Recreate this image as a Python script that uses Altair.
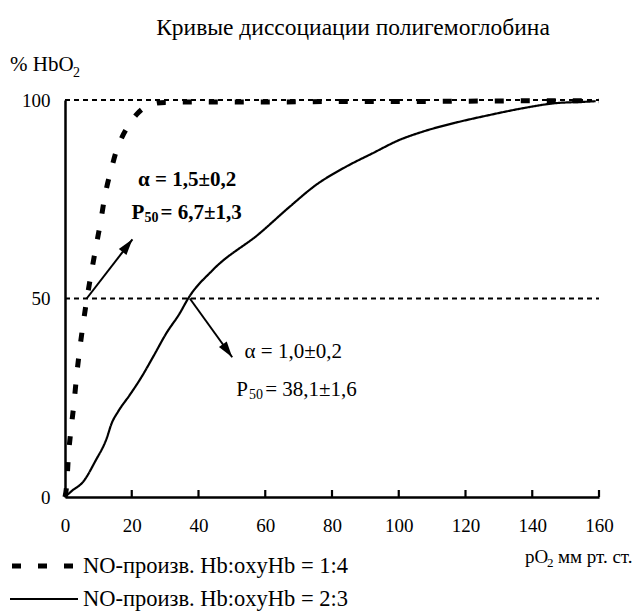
import math
import altair as alt
import pandas as pd

# ---------------- data ----------------
TITLE = "Кривые диссоциации полигемоглобина"
SERIES_A = "NO-произв. Hb:oxyHb = 1:4"
SERIES_B = "NO-произв. Hb:oxyHb = 2:3"

po2_a = [0, 0.5, 1, 1.8, 2.7, 3.5, 4.5, 5.3, 6.5, 8, 9.5, 10.5, 12, 14, 15.5, 17, 19,
         21.4, 24, 26.4, 30, 40, 60, 80, 100, 120, 140, 160]
hbo2_a = [0, 3, 10, 17, 23.7, 30.7, 37.8, 42.8, 49.6, 57, 64, 68.5, 76, 83, 87.5, 90.5, 93.5,
          96.3, 98.2, 99, 99.4, 99.5, 99.5, 99.6, 99.6, 99.7, 99.8, 99.8]

po2_b = [0, 2, 5.5, 9, 12.5, 14, 15.9, 19.4, 22.4, 26.4, 30.4, 34.4, 36.9, 44.3, 58.3, 67.3,
         75.2, 84.2, 92.2, 100.1, 107.1, 117.1, 127.1, 137, 147, 157, 159]
hbo2_b = [0, 1.5, 3.9, 8.9, 14.8, 18.6, 21.5, 25.7, 29.5, 35.3, 41.3, 46.3, 50, 57.2, 66.4, 73.1,
          78.6, 83.2, 86.6, 89.9, 92, 94.3, 96.2, 97.9, 99.2, 99.6, 99.7]

x_ticks = [0, 20, 40, 60, 80, 100, 120, 140, 160]
y_ticks = [0, 50, 100]
ref_levels = [50, 100]

arrow_x1 = [6.5, 37.4]
arrow_y1 = [50, 50]
arrow_x2 = [20.2, 50.1]
arrow_y2 = [64.9, 35.2]

ann_bold_text = ["α = 1,5±0,2", "P", "= 6,7±1,3"]
ann_bold_x = [21.9, 19.9, 28.6]
ann_bold_y = [79.8, 71.5, 71.5]
ann_bold_sub = ["50"]
ann_bold_sub_x = [23.8]
ann_bold_sub_y = [70.2]

ann_norm_text = ["α = 1,0±0,2", "P", "= 38,1±1,6"]
ann_norm_x = [53.8, 51.3, 60.0]
ann_norm_y = [36.6, 27, 27]
ann_norm_sub = ["50"]
ann_norm_sub_x = [55.1]
ann_norm_sub_y = [25.6]

# ---------------- layout ----------------
W, H = 534, 397
FONT = "Liberation Serif, Times New Roman, serif"
XMAX, YMAX = 160, 100

curves = pd.DataFrame({
    "pO2": po2_a + po2_b,
    "HbO2": hbo2_a + hbo2_b,
    "series": [SERIES_A] * len(po2_a) + [SERIES_B] * len(po2_b),
})

xs = alt.Scale(domain=[0, XMAX], nice=False, zero=False)
ys = alt.Scale(domain=[0, YMAX], nice=False, zero=False)
dash_scale = alt.Scale(domain=[SERIES_A, SERIES_B], range=[[9, 17], [1, 0]])
width_scale = alt.Scale(domain=[SERIES_A, SERIES_B], range=[5, 2.2])

xaxis = alt.Axis(values=x_ticks, title=None, ticks=False, grid=False, labelPadding=19,
                 domainColor="black", domainWidth=2.5, labelFont=FONT, labelFontSize=19,
                 labelColor="black", labelFlush=False, labelOverlap=False)
yaxis = alt.Axis(values=y_ticks, title=None, ticks=False, grid=False, labelPadding=15,
                 domainColor="black", domainWidth=2.5, labelFont=FONT, labelFontSize=19,
                 labelColor="black", labelFlush=False, labelOverlap=False)

# dotted reference lines
refs = alt.Chart(pd.DataFrame({"lvl": ref_levels, "x0": [0] * len(ref_levels),
                               "x1": [XMAX] * len(ref_levels)})).mark_rule(
    color="black", strokeWidth=2, strokeDash=[5, 4]
).encode(
    y=alt.Y("lvl:Q", scale=ys, axis=yaxis),
    x=alt.X("x0:Q", scale=xs, axis=xaxis),
    x2="x1:Q",
)

# inward tick marks on x axis
ticks = alt.Chart(pd.DataFrame({"t": x_ticks[1:]})).mark_rule(
    color="black", strokeWidth=2.2
).encode(
    x=alt.X("t:Q", scale=xs),
    y=alt.value(H),
    y2=alt.value(H - 7),
)

lines = alt.Chart(curves).mark_line(color="black", interpolate="monotone", strokeCap="butt").encode(
    x=alt.X("pO2:Q", scale=xs),
    y=alt.Y("HbO2:Q", scale=ys),
    strokeDash=alt.StrokeDash("series:N", scale=dash_scale, legend=None),
    strokeWidth=alt.StrokeWidth("series:N", scale=width_scale, legend=None),
    order=alt.Order("pO2:Q"),
)

# arrows
px_per_x = W / XMAX
px_per_y = H / YMAX
angles = [math.degrees(math.atan2((x2 - x1) * px_per_x, (y2 - y1) * px_per_y))
          for x1, y1, x2, y2 in zip(arrow_x1, arrow_y1, arrow_x2, arrow_y2)]
arr_df = pd.DataFrame({"x1": arrow_x1, "y1": arrow_y1, "x2": arrow_x2, "y2": arrow_y2,
                       "ang": angles})
arrow_lines = alt.Chart(arr_df).mark_rule(color="black", strokeWidth=2).encode(
    x=alt.X("x1:Q", scale=xs), y=alt.Y("y1:Q", scale=ys), x2="x2:Q", y2="y2:Q")
arrow_heads = alt.Chart(arr_df).mark_point(
    shape="M0,0 L0.6,2 L-0.6,2 Z", filled=True, color="black", opacity=1, size=256, strokeWidth=0
).encode(
    x=alt.X("x2:Q", scale=xs), y=alt.Y("y2:Q", scale=ys), angle=alt.Angle("ang:Q", scale=None))


def ann(texts, xv, yv, size, weight):
    df = pd.DataFrame({"t": texts, "x": xv, "y": yv})
    return alt.Chart(df).mark_text(
        align="left", baseline="middle", font=FONT, fontSize=size, fontWeight=weight, color="black"
    ).encode(x=alt.X("x:Q", scale=xs), y=alt.Y("y:Q", scale=ys), text="t:N")


ann_layers = [
    ann(ann_bold_text, ann_bold_x, ann_bold_y, 21, "bold"),
    ann(ann_bold_sub, ann_bold_sub_x, ann_bold_sub_y, 14, "bold"),
    ann(ann_norm_text, ann_norm_x, ann_norm_y, 21, "normal"),
    ann(ann_norm_sub, ann_norm_sub_x, ann_norm_sub_y, 14, "normal"),
]


def label(text, px, py, size, align="left", weight="normal"):
    return alt.Chart(pd.DataFrame({"t": [text]})).mark_text(
        align=align, baseline="middle", font=FONT, fontSize=size, fontWeight=weight, color="black"
    ).encode(x=alt.value(px), y=alt.value(py), text="t:N")


labels = [
    label(TITLE, 288, -72, 23.5, align="center"),
    label("% HbO", -55, -35, 21),
    label("2", 8, -27, 14),
    label("pO", 460, 457, 19),
    label("2", 482, 463, 13),
    label("мм рт. ст.", 493, 457, 19),
]


# legend (drawn with the same dash / width scales as the curves)
def legend_row(series, x_left, x_right, py):
    df = pd.DataFrame({"series": [series]})
    sym = alt.Chart(df).mark_rule(color="black", strokeCap="butt").encode(
        x=alt.value(x_left), x2=alt.value(x_right), y=alt.value(py),
        strokeDash=alt.StrokeDash("series:N", scale=dash_scale, legend=None),
        strokeWidth=alt.StrokeWidth("series:N", scale=width_scale, legend=None),
    )
    txt = alt.Chart(df).mark_text(
        align="left", baseline="middle", font=FONT, fontSize=22.5, color="black"
    ).encode(x=alt.value(18), y=alt.value(py), text="series:N")
    return [sym, txt]


legend_layers = legend_row(SERIES_A, -53, 9, 466) + legend_row(SERIES_B, -55, 13, 499)

chart = alt.layer(refs, ticks, lines, arrow_lines, arrow_heads, *ann_layers, *labels,
                  *legend_layers).properties(
    width=W, height=H,
    autosize="none",
    padding={"left": 65, "top": 100, "right": 39, "bottom": 115},
    background="white",
).configure_view(stroke=None)

chart.save("out.html", embed_options={"renderer": "svg", "actions": False})
